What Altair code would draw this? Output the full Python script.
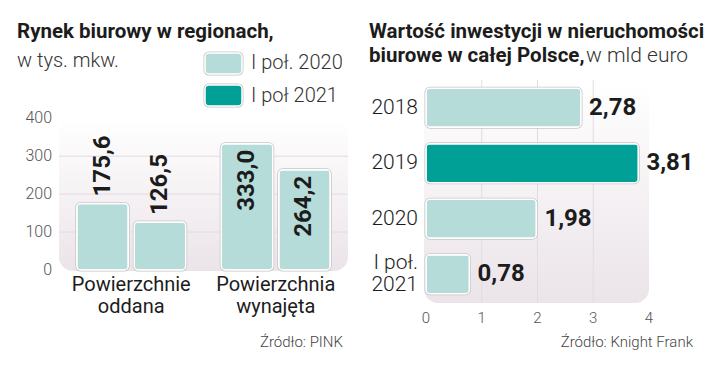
import altair as alt
import pandas as pd

M = 8  # page margin; chart coordinates = page coordinates - margin


def P(v):
    return v - M


FONT = "Roboto"
DARK = "#1c1c1c"
LIGHT_TEAL = "#b6dcd9"
DARK_TEAL = "#00a096"

# ---------------- data ----------------
left_title = "Rynek biurowy w regionach,"
left_subtitle = "w tys. mkw."
left_categories = ["Powierzchnie\noddana", "Powierzchnia\nwynajęta"]
left_series = ["I poł. 2020", "I poł 2021"]
left_values_2020 = [175.6, 333.0]
left_values_2021 = [126.5, 264.2]
left_y_ticks = [0, 100, 200, 300, 400]
left_source = "Źródło: PINK"

right_title_1 = "Wartość inwestycji w nieruchomości"
right_title_2_bold = "biurowe w całej Polsce,"
right_title_2_reg = "w mld euro"
right_years = ["2018", "2019", "2020", "I poł.\n2021"]
right_values = [2.78, 3.81, 1.98, 0.78]
right_x_ticks = [0, 1, 2, 3, 4]
right_source = "Źródło: Knight Frank"

legend_colors = [LIGHT_TEAL, DARK_TEAL]
right_colors = [LIGHT_TEAL, DARK_TEAL, LIGHT_TEAL, LIGHT_TEAL]

# ---------------- tables ----------------
rows = []
for i, c in enumerate(left_categories):
    rows.append({"category": c, "series": left_series[0], "value": left_values_2020[i]})
    rows.append({"category": c, "series": left_series[1], "value": left_values_2021[i]})
left_df = pd.DataFrame(rows)
left_ticks_df = pd.DataFrame({"tick": left_y_ticks})
cat_df = pd.DataFrame({"category": left_categories})
right_df = pd.DataFrame({"year": right_years, "value": right_values})
right_ticks_df = pd.DataFrame({"tick": right_x_ticks})
legend_df = pd.DataFrame({"series": left_series})
one = pd.DataFrame({"k": [0]})

grad = alt.LinearGradient(
    gradient="linear",
    stops=[alt.GradientStop(color="#ffffff", offset=0),
           alt.GradientStop(color="#ebe4e9", offset=1)],
    x1=0, x2=0, y1=0, y2=1,
)

# ---------------- left panel ----------------
xL = alt.X("category:N", axis=None,
           scale=alt.Scale(domain=left_categories, range=[P(59), P(348)],
                           paddingInner=0.246, paddingOuter=0.123))
xoL = alt.XOffset("series:N",
                  scale=alt.Scale(domain=left_series, paddingInner=0.104, paddingOuter=0))
yscaleL = alt.Scale(domain=[0, 400], range=[P(270), P(118.3)], nice=False, zero=True)

bgL = alt.Chart(one).mark_rect(cornerRadius=14, fill=grad).encode(
    x=alt.value(P(59)), x2=alt.value(P(348)), y=alt.value(P(118)), y2=alt.value(P(271)))

gridL = alt.Chart(left_ticks_df).transform_filter(
    "datum.tick > 0 && datum.tick < 400").mark_rule(color="#e2dbe0", strokeWidth=1).encode(
    y=alt.Y("tick:Q", scale=yscaleL, axis=None),
    x=alt.value(P(59)), x2=alt.value(P(348)))

ytickL = alt.Chart(left_ticks_df).mark_text(
    align="right", baseline="middle", font=FONT, fontSize=16, fontWeight=300, color="#555555").encode(
    y=alt.Y("tick:Q", scale=yscaleL, axis=None),
    x=alt.value(P(52)), text=alt.Text("tick:Q"))

barsL_shadow = alt.Chart(left_df).mark_bar(
    cornerRadius=4, fill=LIGHT_TEAL, stroke="#c9c3c7", strokeWidth=3).encode(
    x=xL, xOffset=xoL, y=alt.Y("value:Q", scale=yscaleL, axis=None))
barsL = alt.Chart(left_df).mark_bar(
    cornerRadius=4, fill=LIGHT_TEAL, stroke="#ffffff", strokeWidth=1.5).encode(
    x=xL, xOffset=xoL, y=alt.Y("value:Q", scale=yscaleL, axis=None))

lab_expr = "replace(format(datum.value, '.1f'), '.', ',')"
valL_out = alt.Chart(left_df).transform_filter("datum.value < 250").transform_calculate(
    label=lab_expr).mark_text(
    angle=270, align="left", baseline="middle", dx=7, font=FONT, fontSize=24,
    fontWeight="bold", color=DARK).encode(
    x=xL, xOffset=xoL, y=alt.Y("value:Q", scale=yscaleL, axis=None), text="label:N")
valL_in = alt.Chart(left_df).transform_filter("datum.value >= 250").transform_calculate(
    label=lab_expr).mark_text(
    angle=270, align="right", baseline="middle", dx=-6, font=FONT, fontSize=24,
    fontWeight="bold", color=DARK).encode(
    x=xL, xOffset=xoL, y=alt.Y("value:Q", scale=yscaleL, axis=None), text="label:N")

catL1 = alt.Chart(cat_df).transform_calculate(
    line="split(datum.category, '\\n')[0]").mark_text(
    align="center", baseline="alphabetic", font=FONT, fontSize=20, color=DARK).encode(
    x=xL, y=alt.value(P(291)), text="line:N")
catL2 = alt.Chart(cat_df).transform_calculate(
    line="split(datum.category, '\\n')[1]").mark_text(
    align="center", baseline="alphabetic", font=FONT, fontSize=20, color=DARK).encode(
    x=xL, y=alt.value(P(313)), text="line:N")

left_group = alt.layer(bgL, gridL, ytickL, barsL_shadow, barsL, valL_out, valL_in, catL1, catL2)

# ---------------- right panel ----------------
xscaleR = alt.Scale(domain=[0, 4], range=[P(426), P(649)], nice=False, zero=True)
yR = alt.Y("year:N", axis=None,
           scale=alt.Scale(domain=right_years, range=[P(80), P(302)],
                           paddingInner=0.3, paddingOuter=0.15))
colR = alt.Color("year:N", legend=None,
                 scale=alt.Scale(domain=right_years, range=right_colors))

bgR = alt.Chart(one).mark_rect(cornerRadius=14, fill=grad).encode(
    x=alt.value(P(424)), x2=alt.value(P(649)), y=alt.value(P(80)), y2=alt.value(P(303)))

gridR = alt.Chart(right_ticks_df).transform_filter(
    "datum.tick > 0 && datum.tick < 4").mark_rule(color="#e2dbe0", strokeWidth=1).encode(
    x=alt.X("tick:Q", scale=xscaleR, axis=None),
    y=alt.value(P(80)), y2=alt.value(P(303)))

xtickR = alt.Chart(right_ticks_df).mark_text(
    align="center", baseline="middle", font=FONT, fontSize=15, fontWeight=300, color="#555555").encode(
    x=alt.X("tick:Q", scale=xscaleR, axis=None),
    y=alt.value(P(318)), text=alt.Text("tick:Q"))

barsR_shadow = alt.Chart(right_df).mark_bar(
    cornerRadius=4, stroke="#c9c3c7", strokeWidth=3).encode(
    y=yR, x=alt.X("value:Q", scale=xscaleR, axis=None), color=colR)
barsR = alt.Chart(right_df).mark_bar(
    cornerRadius=4, stroke="#ffffff", strokeWidth=1.5).encode(
    y=yR, x=alt.X("value:Q", scale=xscaleR, axis=None), color=colR)

valR = alt.Chart(right_df).transform_calculate(
    label="replace(format(datum.value, '.2f'), '.', ',')").mark_text(
    align="left", baseline="middle", dx=8, font=FONT, fontSize=24, fontWeight="bold",
    color=DARK).encode(
    y=yR, x=alt.X("value:Q", scale=xscaleR, axis=None), text="label:N")

ylabR_single = alt.Chart(right_df).transform_filter(
    "indexof(datum.year, '\\n') < 0").mark_text(
    align="right", baseline="middle", font=FONT,
    fontSize=21, fontWeight=300, color=DARK).encode(
    y=yR, x=alt.value(P(418)), text="year:N")
ylabR_multi = alt.Chart(right_df).transform_filter(
    "indexof(datum.year, '\\n') >= 0").mark_text(
    align="right", baseline="middle", lineBreak="\n", lineHeight=22, dy=-11, font=FONT,
    fontSize=21, fontWeight=300, color=DARK).encode(
    y=yR, x=alt.value(P(418)), text="year:N")

right_group = alt.layer(bgR, gridR, xtickR, barsR_shadow, barsR, valR, ylabR_single, ylabR_multi)

# ---------------- legend ----------------
yLeg = alt.Y("series:N", axis=None,
             scale=alt.Scale(domain=left_series, range=[P(53), P(106)],
                             paddingInner=0.344, paddingOuter=0))
colLeg = alt.Color("series:N", legend=None,
                   scale=alt.Scale(domain=left_series, range=legend_colors))
legSw_shadow = alt.Chart(legend_df).mark_rect(
    cornerRadius=4, stroke="#c9c3c7", strokeWidth=3).encode(
    y=yLeg, x=alt.value(P(205)), x2=alt.value(P(242)), color=colLeg)
legSw = alt.Chart(legend_df).mark_rect(
    cornerRadius=4, stroke="#ffffff", strokeWidth=1.5).encode(
    y=yLeg, x=alt.value(P(205)), x2=alt.value(P(242)), color=colLeg)
legTx = alt.Chart(legend_df).mark_text(
    align="left", baseline="middle", font=FONT, fontSize=20, fontWeight=300, color="#333333").encode(
    y=yLeg, x=alt.value(P(251)), text="series:N")
legend_group = alt.layer(legSw_shadow, legSw, legTx)


# ---------------- titles & sources ----------------
def label(txt, x, y, size, weight="normal", align="left", color=DARK):
    return alt.Chart(pd.DataFrame({"t": [txt]})).mark_text(
        align=align, baseline="alphabetic", font=FONT, fontSize=size,
        fontWeight=weight, color=color).encode(
        x=alt.value(P(x)), y=alt.value(P(y)), text="t:N")


annotations = alt.layer(
    label(left_title, 17, 38, 20.5, "bold"),
    label(left_subtitle, 17, 67, 20, 300, color="#333333"),
    label(right_title_1, 369, 38, 20.5, "bold"),
    label(right_title_2_bold, 369, 62, 20.5, "bold"),
    label(right_title_2_reg, 586, 62, 21, 300, color="#333333"),
    label(left_source, 343, 347, 15, 300, "right", "#444444"),
    label(right_source, 693, 347, 15, 300, "right", "#444444"),
)

chart = alt.layer(left_group, right_group, legend_group, annotations).resolve_scale(
    x="independent", y="independent", color="independent"
).properties(
    width=705, height=360, padding=0,
    autosize=alt.AutoSizeParams(type="none"),
).configure_view(stroke=None)

chart.save("out.html", embed_options={"renderer": "svg", "actions": False})
